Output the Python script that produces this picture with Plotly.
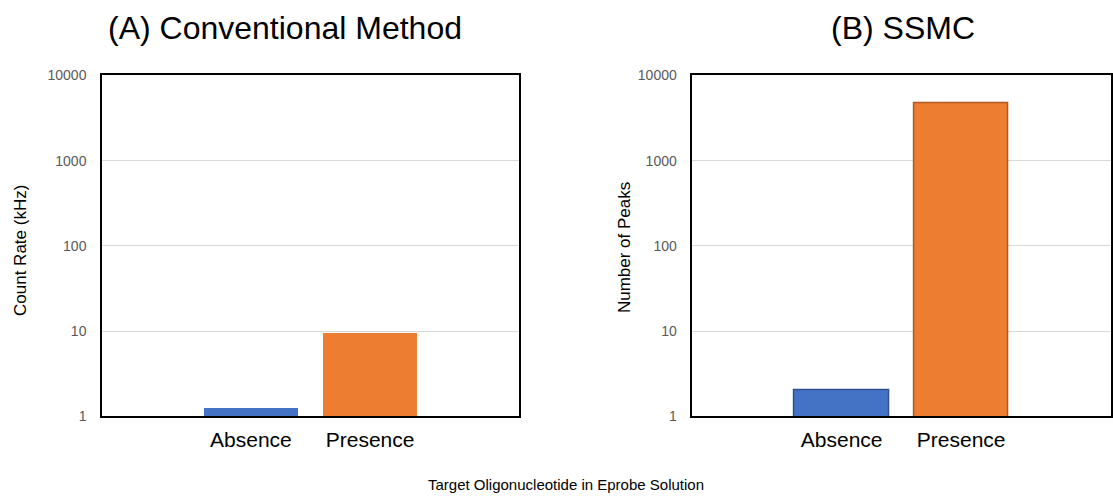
import plotly.graph_objects as go

# Data
categories = ["Absence", "Presence"]
count_rate_khz = [1.25, 9.35]        # (A) Conventional Method
number_of_peaks = [2.0, 4670]        # (B) SSMC
ytick_vals = [1, 10, 100, 1000, 10000]
ytick_text = ["1", "10", "100", "1000", "10000"]

bar_fill = ["#4472C4", "#ED7D31"]
bar_edge = ["#2F528F", "#AE5A21"]

FONT = "Liberation Sans, Arial, sans-serif"
W, H = 1113, 500

# plot-area box in pixels (left, right, top, bottom)
PANEL_A = (102, 519)
PANEL_B = (692.3, 1110.5)
TOP, BOTTOM = 69.6, 421.9

fig = go.Figure()

fig.add_trace(go.Bar(
    x=categories, y=count_rate_khz, width=0.79,
    marker=dict(color=bar_fill, line=dict(width=0)),
    xaxis="x", yaxis="y", showlegend=False,
))
fig.add_trace(go.Bar(
    x=categories, y=number_of_peaks, width=0.79,
    marker=dict(color=bar_fill, line=dict(color=bar_edge, width=1.5)),
    xaxis="x2", yaxis="y2", showlegend=False,
))

xcommon = dict(
    type="category", range=[-1.25, 2.25],
    showline=True, linecolor="black", linewidth=1.5, mirror=True,
    showgrid=False, ticks="", ticklabelstandoff=4,
    tickfont=dict(family=FONT, size=21, color="black"),
    fixedrange=True,
)
ycommon = dict(
    type="log", range=[0, 4],
    tickvals=ytick_vals, ticktext=ytick_text,
    showline=True, linecolor="black", linewidth=1.5, mirror=True,
    showgrid=True, gridcolor="#D9D9D9", gridwidth=1,
    ticks="", ticklabelstandoff=11,
    tickfont=dict(family=FONT, size=14, color="#595959"),
    zeroline=False, fixedrange=True,
)

ydom = [1 - BOTTOM / H, 1 - TOP / H]
fig.update_layout(
    width=W, height=H,
    margin=dict(l=0, r=0, t=0, b=0),
    paper_bgcolor="white", plot_bgcolor="white",
    bargap=0,
    xaxis=dict(domain=[PANEL_A[0] / W, PANEL_A[1] / W], anchor="y", **xcommon),
    yaxis=dict(domain=ydom, anchor="x", **ycommon),
    xaxis2=dict(domain=[PANEL_B[0] / W, PANEL_B[1] / W], anchor="y2", **xcommon),
    yaxis2=dict(domain=ydom, anchor="x2", **ycommon),
    font=dict(family=FONT),
)

annotations = [
    dict(text="(A) Conventional Method", x=285, y=21, font=dict(size=32, color="black")),
    dict(text="(B) SSMC", x=903, y=21, font=dict(size=32, color="black")),
    dict(text="Count Rate (kHz)", x=21, y=251, textangle=-90, font=dict(size=17, color="black")),
    dict(text="Number of Peaks", x=624, y=248, textangle=-90, font=dict(size=17, color="black")),
    dict(text="Target Oligonucleotide in Eprobe Solution", x=566, y=492, font=dict(size=15, color="black")),
]
for a in annotations:
    fig.add_annotation(
        text=a["text"], x=a["x"] / W, y=1 - a["y"] / H,
        xref="paper", yref="paper", xanchor="center", yanchor="middle",
        showarrow=False, textangle=a.get("textangle", 0),
        font=dict(family=FONT, **a["font"]),
    )

fig.write_html("out.html", config={"displayModeBar": False})
